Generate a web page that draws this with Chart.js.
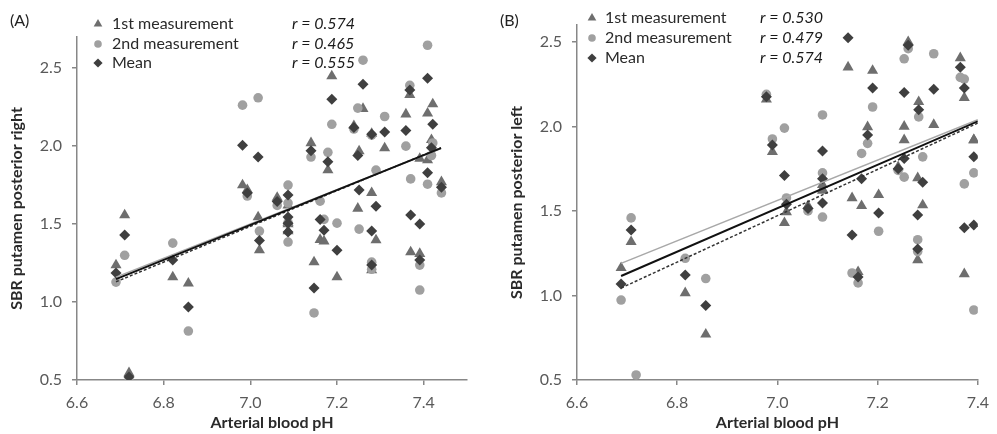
<!DOCTYPE html>
<html>
<head>
<meta charset="utf-8">
<script src="https://cdn.jsdelivr.net/npm/chart.js@4.4.1/dist/chart.umd.min.js"></script>
<style>
  body { margin: 0; background: #fff; }
  .panel { position: absolute; top: 0; }
</style>
</head>
<body>
<canvas id="chartRight" class="panel" style="left:0px" width="500" height="434"></canvas>
<canvas id="chartLeft" class="panel" style="left:500px" width="497" height="434"></canvas>
<script>
const seriesNames = ["1st measurement", "2nd measurement", "Mean"];
const xTicks = [6.6, 6.8, 7.0, 7.2, 7.4];
const yTicks = [0.5, 1.0, 1.5, 2.0, 2.5];

// (A) putamen posterior right
const phRight = [6.690, 6.710, 6.720, 6.821, 6.857, 6.982, 6.993, 7.018, 7.021, 7.062,
                 7.087, 7.087, 7.087, 7.087, 7.140, 7.147, 7.161, 7.170, 7.179, 7.188,
                 7.200, 7.239, 7.260, 7.248, 7.251, 7.280, 7.290, 7.280, 7.280, 7.310,
                 7.359, 7.368, 7.370, 7.391, 7.391, 7.409, 7.421, 7.409, 7.418, 7.441];
const sbrRight1 = [1.237, 1.558, 0.545, 1.160, 1.120, 1.750, 1.720, 1.545, 1.333, 1.670,
                   1.620, 1.455, 1.510, 1.500, 2.020, 1.256, 1.400, 1.390, 1.846, 2.449,
                   1.160, 2.130, 2.240, 1.600, 1.968, 2.080, 1.397, 1.700, 1.205, 1.987,
                   2.205, 2.330, 1.320, 1.920, 1.310, 2.210, 2.270, 1.910, 2.040, 1.770];
const sbrRight2 = [1.128, 1.300, 0.500, 1.378, 0.814, 2.263, 1.680, 2.310, 1.455, 1.620,
                   1.750, 1.635, 1.385, 1.510, 1.930, 0.930, 1.647, 1.530, 1.960, 2.140,
                   1.506, 2.110, 2.551, 2.244, 1.468, 2.070, 1.846, 1.210, 1.256, 2.190,
                   2.000, 2.390, 1.790, 1.077, 1.237, 2.647, 2.020, 1.756, 1.940, 1.700];
const sbrRightMean = [1.186, 1.430, 0.520, 1.270, 0.968, 2.006, 1.700, 1.930, 1.394, 1.645,
                      1.686, 1.545, 1.449, 1.506, 1.970, 1.090, 1.530, 1.460, 1.900, 2.300,
                      1.333, 2.120, 2.397, 1.940, 1.718, 2.077, 1.615, 1.455, 1.237, 2.090,
                      2.100, 2.360, 1.558, 1.500, 1.270, 2.436, 2.140, 1.830, 1.990, 1.737];
const rRight = ["0.574", "0.465", "0.555"];
const trendRightPh = [6.69, 7.44];
const trendRight1 = [1.13, 1.99];
const trendRight2 = [1.16, 1.985];
const trendRightMean = [1.147, 1.987];

// (B) putamen posterior left
const phLeft = [6.688, 6.708, 6.718, 6.816, 6.857, 6.978, 6.990, 7.014, 7.018, 7.061,
                7.090, 7.090, 7.090, 7.141, 7.180, 7.149, 7.168, 7.161, 7.190, 7.202,
                7.253, 7.253, 7.241, 7.261, 7.282, 7.290, 7.280, 7.280, 7.312, 7.365,
                7.373, 7.373, 7.392, 7.392];
const sbrLeft1 = [1.163, 1.317, null, 1.015, 0.770, 2.160, 1.850, 1.430, 1.494, 1.530,
                  1.620, 1.655, 1.630, 2.350, 1.997, 1.577, 1.530, 1.140, 2.330, 1.595,
                  2.000, 1.920, 1.760, 2.500, 2.145, 1.535, 1.695, 1.210, 2.010, 2.405,
                  2.170, 1.127, 1.920, 1.920];
const sbrLeft2 = [0.973, 1.459, 0.530, 1.220, 1.100, 2.190, 1.926, 1.990, 1.577, 1.500,
                  2.068, 1.725, 1.464, null, 1.900, 1.133, 1.840, 1.074, 2.115, 1.380,
                  2.400, 1.700, 1.740, 2.460, 2.056, 1.820, 1.260, 1.330, 2.430, 2.290,
                  2.280, 1.660, 1.725, 0.914];
const sbrLeftMean = [1.068, 1.388, null, 1.121, 0.940, 2.175, 1.890, 1.710, 1.540, 1.515,
                     1.855, 1.690, 1.547, 2.524, 1.950, 1.358, 1.690, 1.110, 2.228, 1.488,
                     2.200, 1.810, 1.750, 2.480, 2.098, 1.670, 1.476, 1.275, 2.220, 2.350,
                     2.228, 1.400, 1.820, 1.417];
const rLeft = ["0.530", "0.479", "0.574"];
const trendLeftPh = [6.688, 7.4];
const trendLeft1 = [1.044, 2.02];
const trendLeft2 = [1.19, 2.04];
const trendLeftMean = [1.115, 2.03];

const FONT = "Lato, 'Liberation Sans', sans-serif";
const AXIS_GREY = "#878787";

const markStyles = [
  { pointStyle: "triangle", color: "#6e6e6e", radius: 6.4, legendRadius: 5 },
  { pointStyle: "circle", color: "#a0a0a0", radius: 4.8, legendRadius: 3.8 },
  { pointStyle: "rectRot", color: "#3f3f3f", radius: 5.5, legendRadius: 4.6 }
];

function toPoints(xs, ys) {
  return xs.map((x, i) => ({ x: x, y: ys[i] })).filter(p => p.y !== null);
}

function trendLine(xs, ys, color, width, dash) {
  return {
    data: toPoints(xs, ys),
    showLine: true,
    borderColor: color,
    borderWidth: width,
    borderDash: dash,
    pointRadius: 0,
    fill: false
  };
}

function markSet(i, xs, ys) {
  const st = markStyles[i];
  return {
    label: seriesNames[i],
    data: toPoints(xs, ys),
    showLine: false,
    pointStyle: st.pointStyle,
    pointRadius: st.radius,
    pointBackgroundColor: st.color,
    pointBorderWidth: 0,
    pointHoverRadius: st.radius
  };
}

// legend block with the correlation coefficients, plus the panel letter
const legendPlugin = {
  id: "sbrLegend",
  afterDraw(chart, args, o) {
    const ctx = chart.ctx;
    ctx.save();
    ctx.textBaseline = "middle";
    ctx.textAlign = "left";
    ctx.fillStyle = "#222";
    ctx.font = "16px " + FONT;
    ctx.fillText(o.panel, o.panelX, 21);
    o.rows.forEach((y, i) => {
      const st = markStyles[i];
      ctx.fillStyle = st.color;
      Chart.helpers.drawPoint(ctx, {
        pointStyle: st.pointStyle, radius: st.legendRadius, rotation: 0, borderWidth: 0
      }, o.markX, y);
      ctx.fillStyle = "#2a2a2a";
      ctx.font = "16px " + FONT;
      ctx.fillText(seriesNames[i], o.textX, y);
      ctx.fillStyle = "#1a1a1a";
      ctx.font = "italic 16px " + FONT;
      ctx.fillText("r = " + o.r[i], o.rX, y);
    });
    ctx.restore();
  }
};

function makePanel(id, p) {
  return new Chart(document.getElementById(id), {
    type: "scatter",
    data: {
      datasets: [
        trendLine(p.trendPh, p.trendMean, "#111111", 2, []),
        trendLine(p.trendPh, p.trend2, "#a8a8a8", 1.5, []),
        trendLine(p.trendPh, p.trend1, "#333333", 1.5, [3, 2]),
        markSet(2, p.ph, p.mean),
        markSet(1, p.ph, p.s2),
        markSet(0, p.ph, p.s1)
      ]
    },
    options: {
      responsive: false,
      animation: false,
      events: [],
      layout: { padding: p.padding },
      plugins: {
        legend: { display: false },
        tooltip: { enabled: false },
        sbrLegend: p.legend
      },
      scales: {
        x: {
          type: "linear",
          min: 6.6,
          max: p.xMax,
          afterBuildTicks: s => { s.ticks = xTicks.map(v => ({ value: v })); },
          afterFit: s => { s.height = 54; },
          ticks: {
            font: { family: FONT, size: 16 },
            color: "#595959",
            padding: 8,
            callback: v => Number(v).toFixed(1)
          },
          grid: { drawOnChartArea: false, tickLength: 5, color: AXIS_GREY, lineWidth: 1.5 },
          border: { color: AXIS_GREY, width: 1.5 },
          title: {
            display: true,
            text: "Arterial blood pH",
            font: { family: FONT, size: 16, weight: "bold" },
            color: "#2a2a2a",
            padding: { top: 0, bottom: 2 }
          }
        },
        y: {
          min: 0.5,
          max: p.yMax,
          afterBuildTicks: s => { s.ticks = yTicks.map(v => ({ value: v })); },
          afterFit: s => { s.width = 77; },
          ticks: {
            font: { family: FONT, size: 16 },
            color: "#595959",
            padding: 10,
            callback: v => Number(v).toFixed(1)
          },
          grid: { drawOnChartArea: false, tickLength: 5, color: AXIS_GREY, lineWidth: 1.5 },
          border: { color: AXIS_GREY, width: 1.5 },
          title: {
            display: true,
            text: p.yTitle,
            font: { family: FONT, size: 16, weight: "bold" },
            color: "#2a2a2a",
            padding: { top: 7, bottom: 0 }
          }
        }
      }
    },
    plugins: [legendPlugin]
  });
}

makePanel("chartRight", {
  ph: phRight, s1: sbrRight1, s2: sbrRight2, mean: sbrRightMean,
  trendPh: trendRightPh, trend1: trendRight1, trend2: trendRight2, trendMean: trendRightMean,
  yTitle: "SBR putamen posterior right",
  xMax: 7.5, yMax: 2.7,
  padding: { left: 0, top: 37, right: 33, bottom: 0 },
  legend: { panel: "(A)", panelX: 10, markX: 98, textX: 112, rX: 292, rows: [24, 44, 63], r: rRight }
});

makePanel("chartLeft", {
  ph: phLeft, s1: sbrLeft1, s2: sbrLeft2, mean: sbrLeftMean,
  trendPh: trendLeftPh, trend1: trendLeft1, trend2: trendLeft2, trendMean: trendLeftMean,
  yTitle: "SBR putamen posterior left",
  xMax: 7.4, yMax: 2.6,
  padding: { left: 0, top: 25, right: 10, bottom: 0 },
  legend: { panel: "(B)", panelX: 0, markX: 92, textX: 105, rX: 260, rows: [18, 38, 58], r: rLeft }
});
</script>
</body>
</html>
